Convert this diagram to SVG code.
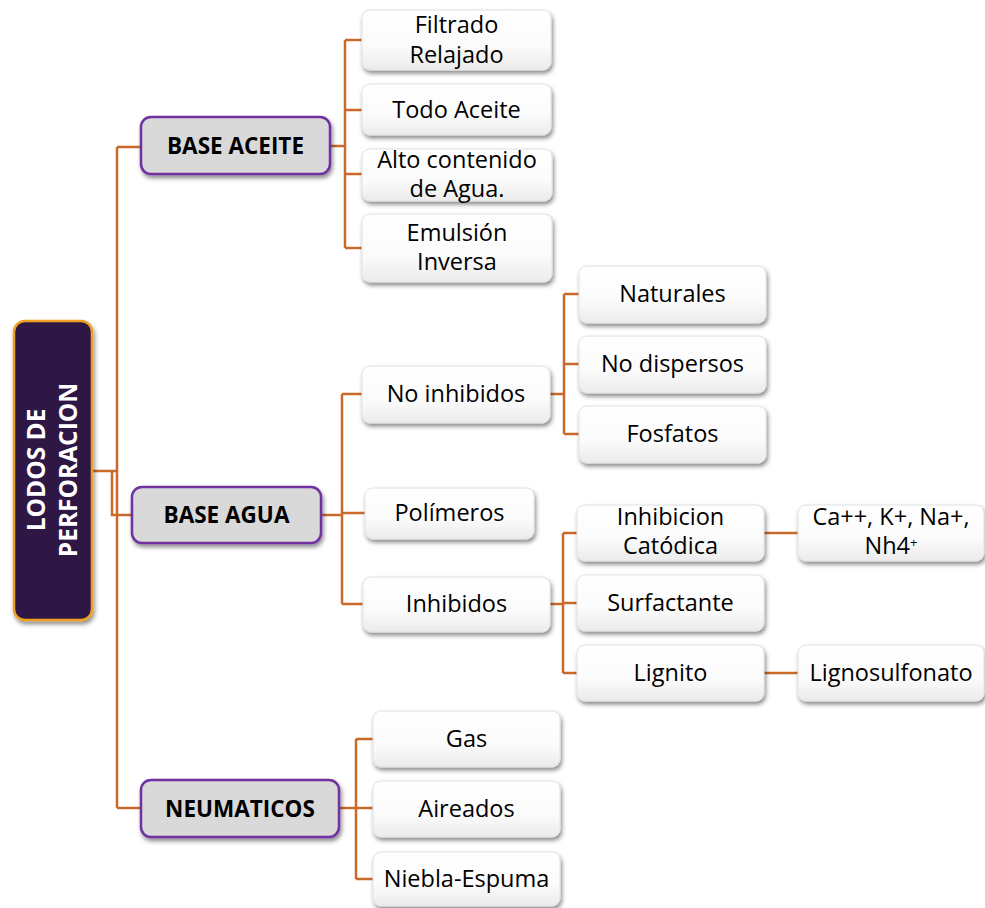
<svg xmlns="http://www.w3.org/2000/svg" width="985" height="908" viewBox="0 0 985 908">
  <style>
    .link { fill: none; stroke: #c96a2b; stroke-width: 2.5; }
    .leaf rect { fill: url(#leafFill); stroke: #e2e2e2; stroke-width: 1; filter: url(#shadow); }
    .leaf text { font-family: "Open Sans", "Liberation Sans", sans-serif; font-size: 23.5px; fill: #000; text-anchor: middle; }
    .branch rect { fill: #d9d9d9; stroke: #7030a0; stroke-width: 2.5; filter: url(#shadow); }
    .branch text { font-family: "Open Sans", "Liberation Sans", sans-serif; font-size: 22.5px; font-weight: bold; fill: #000; text-anchor: middle; }
    .root rect { fill: #2e1844; stroke: #eea021; stroke-width: 2.5; filter: url(#shadow); }
    .root text { font-family: "Open Sans", "Liberation Sans", sans-serif; font-size: 24.5px; font-weight: bold; fill: #fff; text-anchor: middle; }
    .sup { font-size: 13px; }
  </style>
  <defs>
    <linearGradient id="leafFill" x1="0" y1="0" x2="0" y2="1">
      <stop offset="0" stop-color="#ffffff"/>
      <stop offset="0.6" stop-color="#fbfbfb"/>
      <stop offset="1" stop-color="#ebebeb"/>
    </linearGradient>
    <filter id="shadow" x="-20%" y="-20%" width="140%" height="150%">
      <feDropShadow dx="1.5" dy="3" stdDeviation="2" flood-color="#000" flood-opacity="0.45"/>
    </filter>
  </defs>

  <rect width="985" height="908" fill="#fff"/>

  <!-- connectors -->
  <g id="connectors">
    <path class="link" d="M92,471 H117 M117,147 V808 M117,147 H141 M117,808 H141 M92,471 H112 V515 H132"/>
    <path class="link" d="M330,146 H345 M345,40 V248 M345,40 H362 M345,110 H362 M345,174 H362 M345,248 H362"/>
    <path class="link" d="M321,515 H342 M342,394 V604 M342,394 H362 M342,513 H365 M342,604 H363"/>
    <path class="link" d="M550,394 H564 M564,294 V434 M564,294 H579 M564,364 H579 M564,434 H579"/>
    <path class="link" d="M550,604 H563 M563,533 V673 M563,533 H577 M563,603 H577 M563,673 H577"/>
    <path class="link" d="M764,533 H798 M764,673 H798"/>
    <path class="link" d="M339,808 H356 M356,739 V879 M356,739 H373 M356,808 H373 M356,879 H373"/>
  </g>

  <!-- root -->
  <g id="lodos" class="root">
    <rect x="14" y="321" width="78" height="299" rx="11"/>
    <text transform="translate(45,470) rotate(-90)">LODOS DE</text>
    <text transform="translate(77,470) rotate(-90)">PERFORACION</text>
  </g>

  <!-- main branches -->
  <g id="base-aceite" class="branch">
    <rect x="141" y="117" width="189" height="57" rx="10"/>
    <text x="235.5" y="154">BASE ACEITE</text>
  </g>
  <g id="base-agua" class="branch">
    <rect x="132" y="487" width="189" height="56" rx="10"/>
    <text x="226.5" y="523">BASE AGUA</text>
  </g>
  <g id="neumaticos" class="branch">
    <rect x="141" y="780" width="198" height="57" rx="10"/>
    <text x="240" y="817">NEUMATICOS</text>
  </g>

  <!-- base aceite -->
  <g id="filtrado-relajado" class="leaf">
    <rect x="362" y="10" width="189" height="60" rx="8"/>
    <text x="456.5" y="33">Filtrado</text>
    <text x="456.5" y="63">Relajado</text>
  </g>
  <g id="todo-aceite" class="leaf">
    <rect x="362" y="84" width="189" height="51" rx="8"/>
    <text x="456.5" y="118">Todo Aceite</text>
  </g>
  <g id="alto-contenido" class="leaf">
    <rect x="362" y="149" width="190" height="52" rx="8"/>
    <text x="457" y="168">Alto contenido</text>
    <text x="457" y="197">de Agua.</text>
  </g>
  <g id="emulsion-inversa" class="leaf">
    <rect x="362" y="214" width="190" height="68" rx="8"/>
    <text x="457" y="241">Emulsión</text>
    <text x="457" y="270">Inversa</text>
  </g>

  <!-- base agua -->
  <g id="no-inhibidos" class="leaf">
    <rect x="362" y="366" width="188" height="57" rx="8"/>
    <text x="456" y="402">No inhibidos</text>
  </g>
  <g id="naturales" class="leaf">
    <rect x="579" y="266" width="187" height="57" rx="8"/>
    <text x="672.5" y="302">Naturales</text>
  </g>
  <g id="no-dispersos" class="leaf">
    <rect x="579" y="336" width="187" height="57" rx="8"/>
    <text x="672.5" y="372">No dispersos</text>
  </g>
  <g id="fosfatos" class="leaf">
    <rect x="579" y="406" width="187" height="57" rx="8"/>
    <text x="672.5" y="442">Fosfatos</text>
  </g>
  <g id="polimeros" class="leaf">
    <rect x="365" y="488" width="169" height="51" rx="8"/>
    <text x="449.5" y="521">Polímeros</text>
  </g>
  <g id="inhibidos" class="leaf">
    <rect x="363" y="577" width="187" height="55" rx="8"/>
    <text x="456.5" y="612">Inhibidos</text>
  </g>
  <g id="inhibicion-catodica" class="leaf">
    <rect x="577" y="505" width="187" height="56" rx="8"/>
    <text x="670.5" y="525">Inhibicion</text>
    <text x="670.5" y="554">Catódica</text>
  </g>
  <g id="surfactante" class="leaf">
    <rect x="577" y="575" width="187" height="56" rx="8"/>
    <text x="670.5" y="611">Surfactante</text>
  </g>
  <g id="lignito" class="leaf">
    <rect x="577" y="645" width="187" height="56" rx="8"/>
    <text x="670.5" y="681">Lignito</text>
  </g>
  <g id="cationes" class="leaf">
    <rect x="798" y="505" width="186" height="56" rx="8"/>
    <text x="891" y="525">Ca++, K+, Na+,</text>
    <text x="891" y="554">Nh4<tspan class="sup" dy="-7">+</tspan></text>
  </g>
  <g id="lignosulfonato" class="leaf">
    <rect x="798" y="645" width="186" height="56" rx="8"/>
    <text x="891" y="681">Lignosulfonato</text>
  </g>

  <!-- neumaticos -->
  <g id="gas" class="leaf">
    <rect x="373" y="711" width="187" height="56" rx="8"/>
    <text x="466.5" y="747">Gas</text>
  </g>
  <g id="aireados" class="leaf">
    <rect x="373" y="781" width="187" height="56" rx="8"/>
    <text x="466.5" y="817">Aireados</text>
  </g>
  <g id="niebla-espuma" class="leaf">
    <rect x="373" y="852" width="187" height="54" rx="8"/>
    <text x="466.5" y="887">Niebla-Espuma</text>
  </g>
</svg>
